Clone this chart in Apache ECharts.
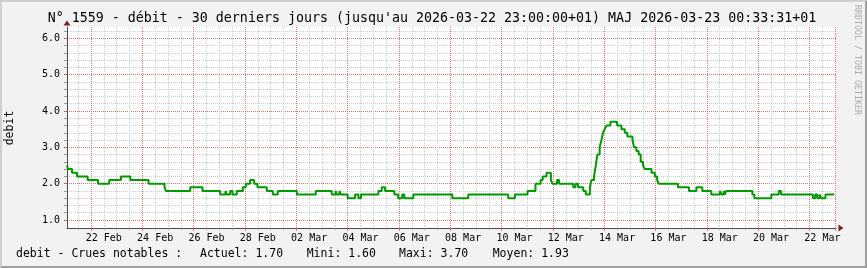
<!DOCTYPE html>
<html><head><meta charset="utf-8">
<script src="https://cdn.jsdelivr.net/npm/echarts@6/dist/echarts.min.js"></script>
<style>
html,body{margin:0;padding:0;background:#f2f2f2;}
#c{position:absolute;left:0;top:0;width:867px;height:268px;}
#frame{position:absolute;left:0;top:0;width:867px;height:268px;box-sizing:border-box;border-style:solid;border-width:2px;border-color:#cfcfcf #9e9e9e #9e9e9e #cfcfcf;pointer-events:none;}
</style></head><body>
<div id="c"></div><div id="frame"></div>
<script>
// ---- texts ----
const titleText = "N° 1559 - débit - 30 derniers jours (jusqu'au 2026-03-22 23:00:00+01) MAJ 2026-03-23 00:33:31+01";
const yAxisTitle = 'debit';
const legendLabel = 'debit - Crues notables :';
const statNames = ['Actuel:', 'Mini:', 'Maxi:', 'Moyen:'];
const statValues = ['1.70', '1.60', '3.70', '1.93'];
const watermark = 'RRDTOOL / TOBI OETIKER';

// ---- tick labels ----
const xTickLabels = ['22 Feb','24 Feb','26 Feb','28 Feb','02 Mar','04 Mar','06 Mar','08 Mar','10 Mar','12 Mar','14 Mar','16 Mar','18 Mar','20 Mar','22 Mar'];
const yTickLabels = ['1.0','2.0','3.0','4.0','5.0','6.0'];

// ---- data: step changes, time in days since 2026-02-22 00:00 (+01) ----
const stepDays = [
  -0.935,-0.895,-0.74,-0.545,-0.132,0.272,0.712,1.168,1.53,2.242,2.865,2.92,3.865,4.345,
  5.033,5.24,5.294,5.42,5.51,5.68,5.917,6.03,6.2,6.357,6.485,6.85,7.085,7.28,8.02,8.758,
  9.38,9.53,9.58,9.68,9.74,10.0,10.29,10.42,10.52,11.2,11.33,11.46,11.82,11.97,12.13,12.21,12.56,
  14.08,14.70,16.26,16.52,17.01,17.32,17.52,17.60,17.75,17.92,17.98,18.16,18.24,18.79,18.88,18.98,
  19.18,19.28,19.44,19.50,19.60,19.67,19.73,19.82,19.89,19.95,20.02,20.09,20.24,20.50,20.67,20.80,
  20.90,21.10,21.16,21.25,21.34,21.42,21.51,21.58,21.84,21.97,22.06,22.12,22.87,23.30,23.59,23.82,
  24.17,24.50,24.57,24.65,24.70,24.75,25.77,25.85,26.51,26.80,26.89,28.13,28.22,28.30,28.39,28.46,
  28.62,28.96
];
const stepValues = [
  2.5,2.4,2.3,2.2,2.1,2.0,2.1,2.2,2.1,2.0,1.9,1.8,1.9,1.8,
  1.7,1.8,1.7,1.8,1.7,1.8,1.9,2.0,2.1,2.0,1.9,1.8,1.7,1.8,1.7,1.8,
  1.7,1.8,1.7,1.8,1.7,1.6,1.7,1.6,1.7,1.8,1.9,1.8,1.7,1.6,1.7,1.6,1.7,
  1.6,1.7,1.6,1.7,1.8,2.0,2.1,2.2,2.3,2.1,2.0,2.1,2.0,1.9,2.0,1.9,
  1.8,1.7,1.9,2.1,2.2,2.5,2.8,3.0,3.2,3.4,3.5,3.6,3.7,3.6,3.5,3.4,
  3.3,3.2,3.0,2.9,2.8,2.6,2.5,2.4,2.3,2.2,2.1,2.0,1.9,1.8,1.9,1.8,
  1.7,1.8,1.7,1.8,1.7,1.8,1.7,1.6,1.7,1.8,1.7,1.6,1.7,1.6,1.7,1.6,
  1.7,1.7
];

// ---- layout ----
const FONT = '"DejaVu Sans Mono", monospace';
const xMin = -0.935, xMax = 29.03;
const yMin = 0.78, yMax = 6.31;
const minorX = []; for (let k = -1; k <= 58; k++) minorX.push(k / 2);
const majorX = []; for (let k = 0; k <= 14; k++) majorX.push(2 * k); majorX.push(29);
const labelX = xTickLabels.map((_, i) => 2 * i + 0.5);
const minorY = []; for (let k = 5; k <= 31; k++) minorY.push(k / 5);
const majorY = yTickLabels.map((_, i) => i + 1);

const points = stepDays.map((d, i) => [d, stepValues[i]]);

const gridCol = '#cccccc';
const majCol = 'rgba(222,79,79,0.72)';

const chart = echarts.init(document.getElementById('c'), null, {renderer: 'canvas'});
chart.setOption({
  animation: false,
  backgroundColor: 'transparent',
  grid: {left: 67, top: 27, width: 769, height: 201, show: true, backgroundColor: '#ffffff', borderWidth: 0, containLabel: false, outerBoundsMode: 'none'},
  xAxis: [
    {type: 'value', position: 'bottom', min: xMin, max: xMax,
     axisLine: {show: true, onZero: false, lineStyle: {color: '#4a4a4a', width: 1}},
     axisTick: {show: true, customValues: minorX, length: 2, lineStyle: {color: '#9a9a9a'}},
     axisLabel: {show: false},
     splitLine: {show: true, lineStyle: {color: gridCol, type: 'dotted', width: 1}}},
    {type: 'value', position: 'bottom', min: xMin, max: xMax,
     axisLine: {show: true, onZero: false, symbol: ['none', 'triangle'], symbolSize: [7, 5], symbolOffset: [0, 5], lineStyle: {color: '#801f1f', width: 0}},
     axisTick: {show: true, customValues: majorX, length: 3, lineStyle: {color: majCol}},
     axisLabel: {show: true, customValues: labelX, formatter: v => xTickLabels[Math.round((v - 0.5) / 2)],
                 margin: 4, fontSize: 10, fontFamily: FONT, color: '#000', lineHeight: 12},
     splitLine: {show: true, lineStyle: {color: majCol, type: 'dotted', width: 1}}}
  ],
  yAxis: [
    {type: 'value', position: 'left', min: yMin, max: yMax,
     axisLine: {show: true, onZero: false, lineStyle: {color: '#4a4a4a', width: 1}},
     axisTick: {show: true, customValues: minorY, length: 3, lineStyle: {color: '#9a9a9a'}},
     axisLabel: {show: false},
     splitLine: {show: true, lineStyle: {color: gridCol, type: 'dotted', width: 1}}},
    {type: 'value', position: 'left', min: yMin, max: yMax,
     axisLine: {show: true, onZero: false, symbol: ['none', 'triangle'], symbolSize: [7, 5], symbolOffset: [0, 4], lineStyle: {color: '#801f1f', width: 0}},
     axisTick: {show: true, customValues: majorY, length: 3, lineStyle: {color: majCol}},
     axisLabel: {show: true, customValues: majorY, formatter: v => yTickLabels[Math.round(v) - 1],
                 margin: 7, fontSize: 10, fontFamily: FONT, color: '#000'},
     splitLine: {show: true, lineStyle: {color: majCol, type: 'dotted', width: 1}}}
  ],
  series: [{
    type: 'line', xAxisIndex: 0, yAxisIndex: 0, step: 'end', data: points,
    showSymbol: false, symbol: 'none', z: 5,
    lineStyle: {color: '#009a00', width: 2}
  }],
  graphic: [
    {type: 'text', x: 432, y: 19, style: {text: titleText, font: '13.3px ' + FONT, fill: '#000', align: 'center', verticalAlign: 'middle'}},
    {type: 'text', x: 10, y: 128, rotation: Math.PI / 2, style: {text: yAxisTitle, font: '11.5px ' + FONT, fill: '#000', align: 'center', verticalAlign: 'middle'}},
    {type: 'text', x: 857, y: 60, rotation: -Math.PI / 2, style: {text: watermark, font: '8.3px ' + FONT, fill: '#ababab', align: 'center', verticalAlign: 'middle'}},
    {type: 'text', x: 16, y: 254, style: {text: legendLabel, font: '11.5px ' + FONT, fill: '#000', align: 'left', verticalAlign: 'middle'}},
    ...statNames.map((n, i) => ({type: 'text', x: [200, 306.7, 399, 492.7][i], y: 254,
      style: {text: n + ' ' + statValues[i], font: '11.5px ' + FONT, fill: '#000', align: 'left', verticalAlign: 'middle'}}))
  ]
});
</script>
</body></html>
